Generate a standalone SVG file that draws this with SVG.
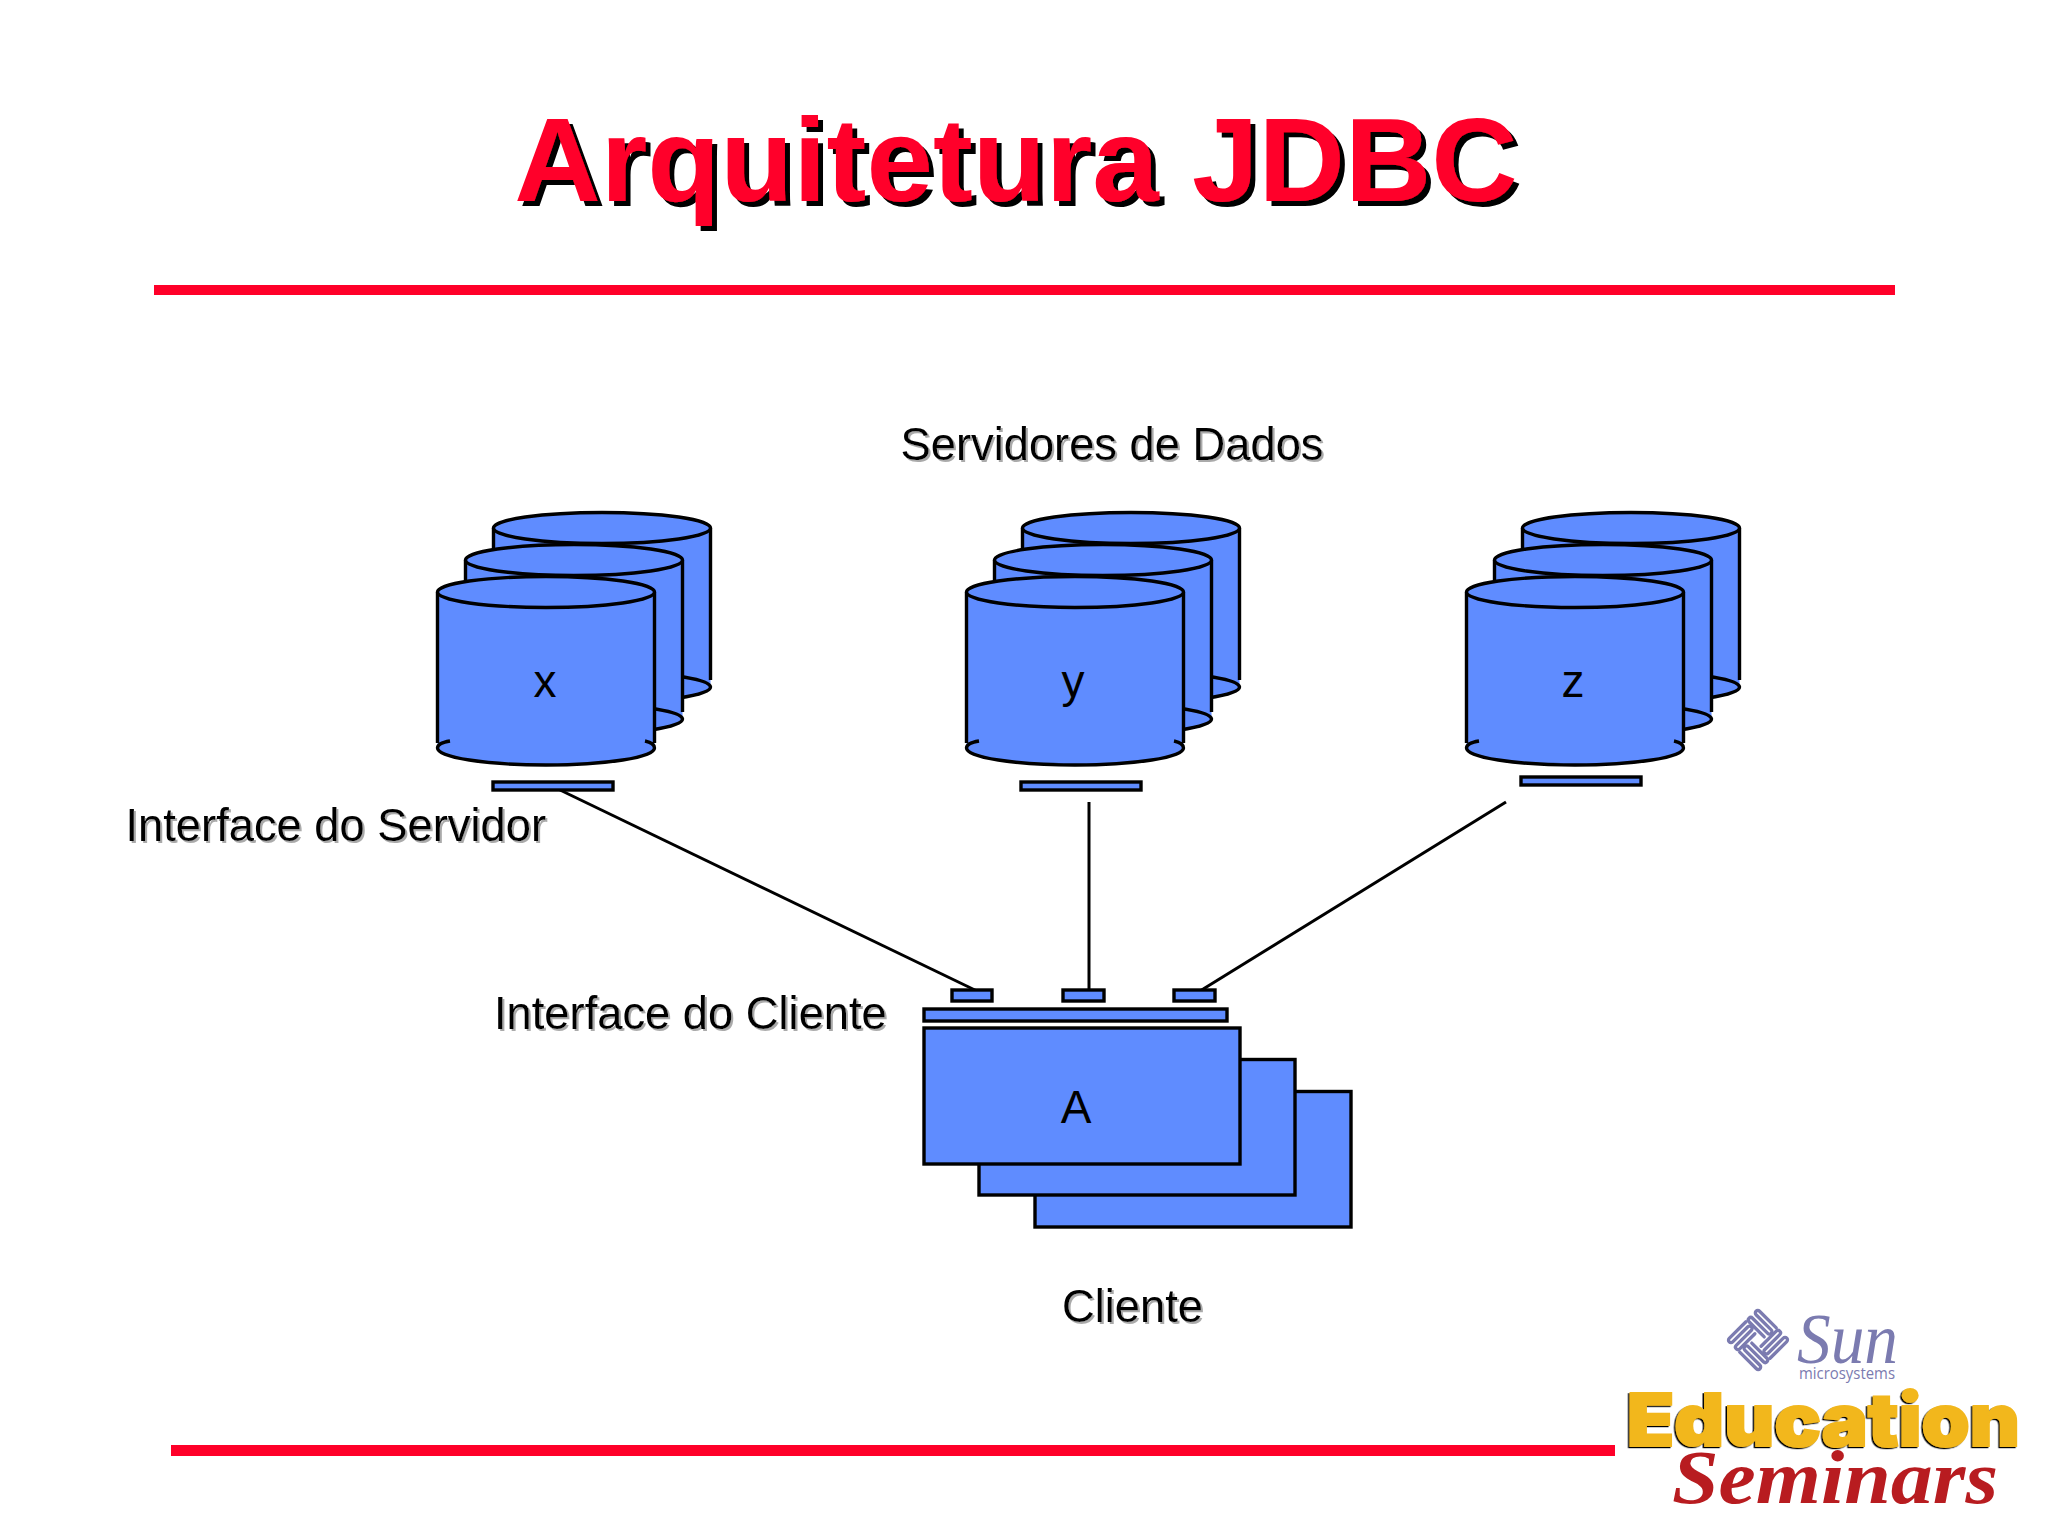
<svg xmlns="http://www.w3.org/2000/svg" xmlns:xlink="http://www.w3.org/1999/xlink" width="2048" height="1536" viewBox="0 0 2048 1536">
<style>
.b{fill:#5f8cff;stroke:#000;stroke-width:3.4}
.n{fill:none;stroke:#000;stroke-width:3.4}
.c{stroke:#000;stroke-width:3;fill:none}
.t{font-family:"Liberation Sans",Arial,sans-serif;font-size:46px;fill:#000}
.l{font-family:"Liberation Sans",Arial,sans-serif;font-size:45.3px;fill:#000;filter:url(#ls)}
.r{fill:#ff0029}
</style>
<defs>
<filter id="ts" x="-5%" y="-20%" width="110%" height="140%"><feDropShadow dx="5" dy="5" stdDeviation="0" flood-color="#000"/></filter>
<filter id="ls" x="-5%" y="-20%" width="110%" height="140%"><feDropShadow dx="2" dy="2" stdDeviation="0.7" flood-color="#aaa"/></filter>
<filter id="es" x="-5%" y="-20%" width="110%" height="140%"><feDropShadow dx="-1.5" dy="1.2" stdDeviation="0" flood-color="#000"/></filter>
<g id="cyl">
<path d="M-108.500 0V156A108.500 17 0 0 0 108.500 156V0Z" fill="#5f8cff"/>
<path class="n" d="M-108.500 0V151M108.500 0V151M-96 149Q-108.500 151 -108.500 156A108.500 17 0 0 0 108.500 156Q108.500 151 99 149"/>
<ellipse class="b" cx="0" cy="0" rx="108.500" ry="15.500"/>
</g>
<g id="cylb">
<path d="M-108.500 0V159A108.500 15.500 0 0 0 108.500 159V0Z" fill="#5f8cff"/>
<path class="n" d="M-108.500 0V152M108.500 0V152M20 144A108.500 15.500 0 0 1 108.500 159A108.500 15.500 0 0 1 -108.500 159"/>
<ellipse class="b" cx="0" cy="0" rx="108.500" ry="15.500"/>
</g>
<g id="cylstack">
<use xlink:href="#cylb" href="#cylb" x="56" y="-64"/>
<use xlink:href="#cylb" href="#cylb" x="28" y="-32"/>
<use xlink:href="#cyl" href="#cyl"/>
</g>
</defs>
<rect width="2048" height="1536" fill="#fff"/>
<g id="title">
<text x="1016" y="201" text-anchor="middle" font-family="'Liberation Sans',Arial,sans-serif" font-weight="700" font-size="119.600" fill="#ff0029" filter="url(#ts)">Arquitetura JDBC</text>
<rect class="r" x="154" y="285" width="1741" height="10"/>
</g>
<g id="connectors">
<line class="c" x1="560" y1="790" x2="977" y2="991"/>
<line class="c" x1="1089" y1="802" x2="1089" y2="990"/>
<line class="c" x1="1506" y1="802" x2="1200" y2="991"/>
</g>
<g id="servidores-label"><text class="l" x="900.500" y="460">Servidores de Dados</text></g>
<g id="node-x">
<use xlink:href="#cylstack" href="#cylstack" x="546" y="592"/>
<text class="t" x="545" y="697" text-anchor="middle">x</text>
<rect class="b" x="493" y="782" width="120" height="8"/>
</g>
<g id="node-y">
<use xlink:href="#cylstack" href="#cylstack" x="1075" y="592"/>
<text class="t" x="1073" y="697" text-anchor="middle">y</text>
<rect class="b" x="1021" y="782" width="120" height="8"/>
</g>
<g id="node-z">
<use xlink:href="#cylstack" href="#cylstack" x="1575" y="592"/>
<text class="t" x="1573" y="697" text-anchor="middle">z</text>
<rect class="b" x="1521" y="777" width="120" height="8"/>
</g>
<g id="interface-servidor"><text class="l" x="125.500" y="841">Interface do Servidor</text></g>
<g id="interface-cliente"><text class="l" x="494" y="1029">Interface do Cliente</text></g>
<g id="node-a">
<rect class="b" x="1035" y="1091.500" width="316" height="135.500"/>
<rect class="b" x="979" y="1059.500" width="316" height="135.500"/>
<rect class="b" x="924" y="1028" width="316" height="136"/>
<rect class="b" x="924" y="1009" width="303" height="12"/>
<rect class="b" x="952" y="990" width="40" height="11"/>
<rect class="b" x="1063" y="990" width="41" height="11"/>
<rect class="b" x="1174" y="990" width="41" height="11"/>
<text class="t" x="1076" y="1123" text-anchor="middle">A</text>
</g>
<g id="cliente-label"><text class="l" x="1062" y="1322">Cliente</text></g>
<rect id="footer-line" class="r" x="171" y="1445" width="1444" height="11"/>
<g id="logo">
<g transform="translate(1758 1340) rotate(45) scale(1.1)" fill="none" stroke="#7b7bb0" stroke-width="3" stroke-linecap="round">
<path id="arm" d="M4 -19.500H-17.500A2.250 2.250 0 0 0 -17.500 -15H2A2.250 2.250 0 0 1 2 -10.500H-17.500A2.250 2.250 0 0 0 -17.500 -6H2"/>
<use xlink:href="#arm" href="#arm" transform="rotate(90)"/>
<use xlink:href="#arm" href="#arm" transform="rotate(180)"/>
<use xlink:href="#arm" href="#arm" transform="rotate(270)"/>
</g>
<text x="1797" y="1363" font-family="'Liberation Serif',serif" font-style="italic" font-size="72" fill="#7b7bb0" textLength="101" lengthAdjust="spacingAndGlyphs">Sun</text>
<text x="1799" y="1379" font-family="'Open Sans','Liberation Sans',sans-serif" font-size="17" fill="#7b7bb0" textLength="96" lengthAdjust="spacingAndGlyphs">microsystems</text>
<text x="1627" y="1446" font-family="Inter,'Liberation Sans',sans-serif" font-weight="900" font-size="73" fill="#f2b71f" stroke="#f2b71f" stroke-width="2" textLength="393" lengthAdjust="spacingAndGlyphs" filter="url(#es)">Education</text>
<text x="1672" y="1503" font-family="'Liberation Serif',serif" font-style="italic" font-weight="700" font-size="76" fill="#b81c20" textLength="326" lengthAdjust="spacingAndGlyphs">Seminars</text>
</g>
</svg>
